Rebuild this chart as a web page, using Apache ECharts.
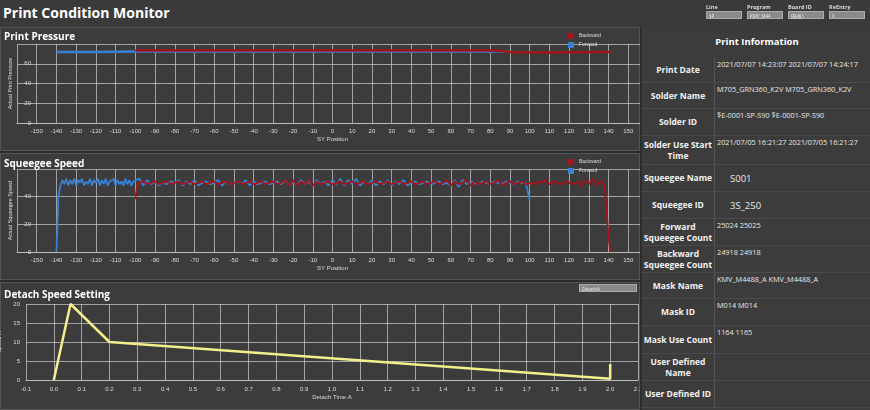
<!DOCTYPE html>
<html><head><meta charset="utf-8">
<script src="https://cdn.jsdelivr.net/npm/echarts@6/dist/echarts.min.js"></script>
<style>
body{margin:0;width:870px;height:410px;background:#2c2c2c;font-family:"Open Sans",sans-serif;overflow:hidden;position:relative;color:#eee}
#chart{position:absolute;left:0;top:0;width:870px;height:410px}
.panel{position:absolute;background:#3c3c3c;border:1px solid #555;box-sizing:border-box}
.title{position:absolute;font-weight:bold;color:#fff}
#right{position:absolute;left:640px;top:27px;width:230px;height:383px;background:#3c3c3c;border-left:2px solid #2c2c2c;z-index:5}
.row{position:absolute;left:0;width:230px;border-bottom:1px solid #4a4a4a}
.lab{position:absolute;left:0;width:72px;text-align:center;font-size:8.5px;font-weight:bold;color:#f2f2f2;line-height:11px}
.val{position:absolute;left:75px;font-size:7.3px;color:#e8e8e8;white-space:nowrap}
.ctl{position:absolute;font-size:5.5px;font-weight:bold;color:#ddd}
.dd{position:absolute;width:36px;height:8px;background:#8a8a8a;border:1px solid #aaa;font-size:4.5px;color:#eee;line-height:8px;padding-left:2px;box-sizing:border-box}
</style></head><body>
<div class="panel" style="left:0;top:0;width:870px;height:27px;background:#3a3a3a;border:none"></div>
<div class="title" style="left:3px;top:3px;font-size:14px">Print Condition Monitor</div>
<div class="panel" style="left:0;top:27px;width:640px;height:124px"></div>
<div class="panel" style="left:0;top:153px;width:640px;height:127px"></div>
<div class="panel" style="left:0;top:282px;width:640px;height:128px"></div>
<div id="chart"></div>
<div class="title" style="left:4px;top:29px;font-size:10px;z-index:3">Print Pressure</div>
<div class="title" style="left:4px;top:156px;font-size:10px;z-index:3">Squeegee Speed</div>
<div class="title" style="left:4px;top:287px;font-size:10px;z-index:3">Detach Speed Setting</div>
<div class="dd" style="left:579px;top:284px;width:58px;z-index:3">DetachA</div>
<div class="ctl" style="left:706px;top:3px">Line</div><div class="dd" style="left:706px;top:11px">SP</div>
<div class="ctl" style="left:747px;top:3px">Program</div><div class="dd" style="left:747px;top:11px">KMV_M44</div>
<div class="ctl" style="left:788px;top:3px">Board ID</div><div class="dd" style="left:788px;top:11px">(基板)</div>
<div class="ctl" style="left:829px;top:3px">ReEntry</div><div class="dd" style="left:829px;top:11px">0</div>
<div id="right"></div>
<script>
const pressFwd=[[-140,72],[-120,72],[-100,72.5],[-50,72.5],[0,72.5],[50,72.5],[90,72.5]];
const pressBwd=[[-100,73.5],[-60,73.5],[0,73.5],[40,73.5],[80,73.5],[86,73],[90,72],[95,71.5],[110,71.5],[130,71.8],[140,72],[141,71]];
const speedFwd=[[-140,0],[-139,40],[-138,48],[-137,52],[-136,49],[-135,53],[-134,48],[-133,52],[-132,49],[-131,53],[-130,48],[-129,52],[-128,50],[-127,53],[-126,48],[-125,51],[-124,49],[-123,53],[-122,48],[-121,52],[-120,50],[-119,53],[-118,48],[-117,52],[-116,49],[-115,53],[-114,48],[-113,51],[-112,50],[-111,53],[-110,48],[-109,52],[-108,49],[-107,51],[-106,48],[-105,53],[-104,49],[-103,52],[-102,48],[-101,51],[-100,50],[-98,53],[-96,48],[-94,52],[-92,49],[-90,51],[-88,48],[-86,50],[-84,49],[-82,51],[-80,50],[-78,52],[-76,48],[-74,51],[-72,49],[-70,52],[-68,48],[-66,50],[-64,51],[-62,49],[-60,50],[-58,52],[-56,48],[-54,51],[-52,49],[-50,50],[-48,51],[-46,49],[-44,52],[-42,48],[-40,51],[-38,49],[-36,50],[-34,51],[-32,49],[-30,50],[-28,51],[-26,49],[-24,52],[-22,48],[-20,51],[-18,48],[-16,52],[-14,49],[-12,51],[-10,48],[-8,52],[-6,49],[-4,51],[-2,48],[0,52],[2,49],[4,53],[6,48],[8,52],[10,49],[12,53],[14,48],[16,51],[18,49],[20,52],[22,48],[24,51],[26,49],[28,52],[30,48],[32,51],[34,49],[36,52],[38,48],[40,50],[42,51],[44,49],[46,50],[48,51],[50,49],[52,50],[54,51],[56,49],[58,50],[60,48],[62,52],[64,47],[66,52],[68,49],[70,51],[72,50],[74,49],[76,51],[78,50],[80,49],[82,51],[84,50],[86,49],[88,51],[90,50],[92,49],[94,51],[96,50],[98,50],[99,49],[100,38]];
const speedBwd=[[-100,38],[-99,48],[-98,50],[-96,51],[-94,49],[-92,50],[-90,51],[-88,49],[-86,50],[-84,51],[-82,49],[-80,50],[-78,51],[-76,49],[-74,50],[-72,51],[-70,49],[-68,50],[-66,51],[-64,49],[-62,50],[-60,51],[-58,49],[-56,50],[-54,51],[-52,49],[-50,50],[-48,51],[-46,49],[-44,50],[-42,51],[-40,49],[-38,50],[-36,51],[-34,49],[-32,50],[-30,51],[-28,49],[-26,50],[-24,52],[-22,48],[-20,52],[-18,48],[-16,51],[-14,49],[-12,52],[-10,48],[-8,51],[-6,49],[-4,50],[-2,51],[0,49],[2,50],[4,51],[6,49],[8,50],[10,51],[12,49],[14,50],[16,51],[18,49],[20,50],[22,51],[24,49],[26,50],[28,51],[30,49],[32,50],[34,51],[36,49],[38,50],[40,51],[42,49],[44,50],[46,51],[48,49],[50,50],[52,51],[54,49],[56,50],[58,52],[60,48],[62,51],[64,49],[66,50],[68,52],[70,48],[72,51],[74,49],[76,50],[78,51],[80,49],[82,50],[84,52],[86,48],[88,50],[90,51],[92,49],[94,50],[96,51],[98,49],[100,50],[102,49],[104,51],[106,50],[108,52],[110,49],[112,51],[114,50],[116,49],[118,51],[120,50],[122,49],[124,51],[126,48],[128,52],[130,49],[132,53],[134,48],[136,52],[137,50],[138,48],[139,30],[140,10],[141,0]];
const detachTime=[0,0.06,0.2,2.0,2.0];
const detachSpeed=[0,20,10,0.3,4.2];
const infoLabels=["Print Date","Solder Name","Solder ID","Solder Use Start Time","Squeegee Name","Squeegee ID","Forward Squeegee Count","Backward Squeegee Count","Mask Name","Mask ID","Mask Use Count","User Defined Name","User Defined ID"];
const infoValues=["2021/07/07 14:23:07  2021/07/07 14:24:17","M705_GRN360_K2V  M705_GRN360_K2V","$E-0001-SP-S90  $E-0001-SP-S90","2021/07/05 16:21:27  2021/07/05 16:21:27","S001","3S_250","25024  25025","24918  24918","KMV_M4488_A  KMV_M4488_A","M014  M014","1164  1165","",""];
const rowBounds=[57,82,108,135,164,191,218,245,272,298,325,353,380,407];

const R=document.getElementById('right');
let h='<div style="position:absolute;left:0;top:8px;width:230px;text-align:center;font-size:9.5px;font-weight:bold;color:#fff">Print Information</div>';
h+='<div style="position:absolute;left:72px;top:30px;width:1px;height:350px;background:#555"></div>';
infoLabels.forEach((l,i)=>{const t=rowBounds[i]-27,b=rowBounds[i+1]-27;const big=(i===4||i===5);
h+=`<div class="row" style="top:${t}px;height:${b-t}px"></div>`;
h+=`<div class="lab" style="top:${t}px;height:${b-t}px;display:flex;align-items:center;justify-content:center">${l}</div>`;
h+=`<div class="val" style="top:${t+(big?8:2)}px;left:${big?88:75}px;font-size:${big?9.5:7.3}px">${infoValues[i]}</div>`;});
R.innerHTML=h;

const gl='#bdbdbd', lbl='#dcdcdc';
const xAx=(gi)=>({type:'value',gridIndex:gi,min:-160,max:160,interval:10,name:'SY Position',nameLocation:'middle',nameGap:13,nameTextStyle:{color:lbl,fontSize:6},
 axisLine:{lineStyle:{color:gl}},axisTick:{show:false},splitLine:{lineStyle:{color:gl,width:0.8}},
 axisLabel:{color:lbl,fontSize:6,margin:5,showMinLabel:false,showMaxLabel:false}});
const yAx=(gi,max,iv,name)=>({type:'value',gridIndex:gi,min:0,max:max,interval:iv,name:name,nameLocation:'middle',nameGap:-5,nameTextStyle:{color:lbl,fontSize:5.5},
 axisLine:{show:false},axisTick:{show:false},splitLine:{lineStyle:{color:gl,width:0.8}},axisLabel:{color:lbl,fontSize:6,margin:-14,showMaxLabel:false}});
const c=echarts.init(document.getElementById('chart'),null,{renderer:'canvas'});
const red='#a5141a', blue='#3a80d2';
const ls=(w)=>({width:w});
c.setOption({
 animation:false,
 legend:[{top:28,left:563,orient:'vertical',itemWidth:6,itemHeight:6,itemGap:3,icon:'rect',textStyle:{color:'#ddd',fontSize:5},data:['Backward','Forward']},
  {top:154,left:563,orient:'vertical',itemWidth:6,itemHeight:6,itemGap:3,icon:'rect',textStyle:{color:'#ddd',fontSize:5},data:[{name:'Backward '},{name:'Forward '}]}],
 grid:[{left:17,right:222,top:44,height:79,outerBoundsMode:'none'},{left:17,right:222,top:169,height:83,outerBoundsMode:'none'},{left:26,right:232,top:304,height:76,outerBoundsMode:'none'}],
 xAxis:[xAx(0),xAx(1),{type:'value',gridIndex:2,min:-0.1,max:2.1,interval:0.1,name:'Detach Time A',nameLocation:'middle',nameGap:14,nameTextStyle:{color:lbl,fontSize:6},
  axisLine:{lineStyle:{color:gl}},axisTick:{show:false},splitLine:{lineStyle:{color:gl,width:0.8}},axisLabel:{color:lbl,fontSize:6,margin:6,formatter:v=>v.toFixed(1)}}],
 yAxis:[yAx(0,80,20,'Actual Print Pressure'),yAx(1,60,20,'Actual Squeegee Speed'),
  {type:'value',gridIndex:2,min:0,max:20,interval:5,name:'Speed A',nameLocation:'middle',nameGap:16,nameTextStyle:{color:lbl,fontSize:5.5},
   axisLine:{show:false},axisTick:{show:false},splitLine:{lineStyle:{color:gl,width:0.8}},axisLabel:{color:lbl,fontSize:6,margin:6}}],
 color:[red,blue],
 series:[
  {name:'Forward',type:'line',xAxisIndex:0,yAxisIndex:0,data:pressFwd,showSymbol:false,lineStyle:ls(2.5),itemStyle:{color:blue}},
  {name:'Backward',type:'line',xAxisIndex:0,yAxisIndex:0,data:pressBwd,showSymbol:false,lineStyle:ls(2.5),itemStyle:{color:red}},
  {name:'Forward ',type:'line',xAxisIndex:1,yAxisIndex:1,data:speedFwd,showSymbol:false,lineStyle:ls(1.8),itemStyle:{color:blue}},
  {name:'Backward ',type:'line',xAxisIndex:1,yAxisIndex:1,data:speedBwd,showSymbol:false,lineStyle:ls(1.8),itemStyle:{color:red}},
  {type:'line',xAxisIndex:2,yAxisIndex:2,data:detachTime.map((t,i)=>[t,detachSpeed[i]]),showSymbol:false,lineStyle:{width:2.5,color:'#f3ef8c'}}
 ]
});
</script></body></html>
